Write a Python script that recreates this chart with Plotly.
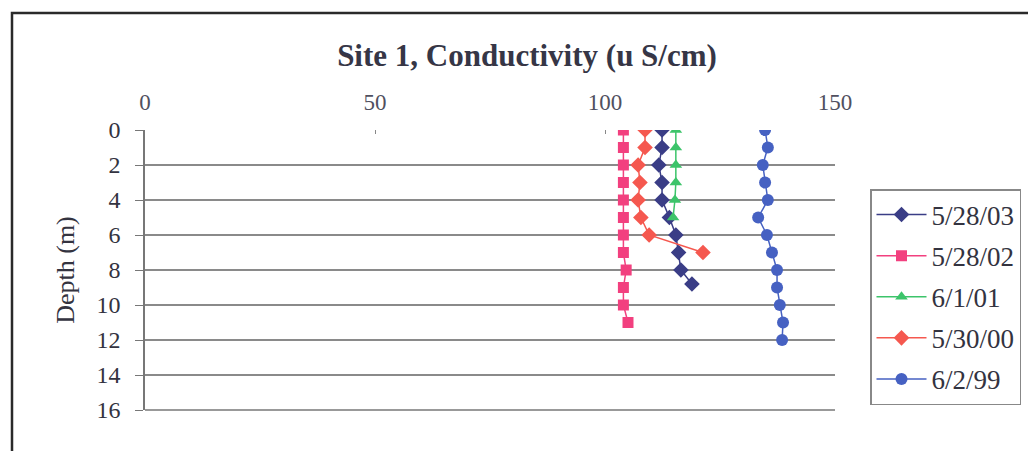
import plotly.graph_objects as go

# ---- data ----
series_names = ["5/28/03", "5/28/02", "6/1/01", "5/30/00", "6/2/99"]

depth_0528_03 = [0, 1, 2, 3, 4, 5, 6, 7, 8, 8.8]
cond_0528_03 = [112.4, 112.4, 111.7, 112.4, 112.4, 114.0, 115.4, 116.0, 116.5, 118.9]

depth_0528_02 = [0, 1, 2, 3, 4, 5, 6, 7, 8, 9, 10, 11]
cond_0528_02 = [104, 104, 104, 104, 104, 104, 104, 104, 104.6, 104, 104, 105]

depth_0601_01 = [0, 1, 2, 3, 4, 5]
cond_0601_01 = [115.4, 115.4, 115.4, 115.4, 115.2, 114.8]

depth_0530_00 = [0, 1, 2, 3, 4, 5, 6, 7]
cond_0530_00 = [108.7, 108.7, 107.2, 107.6, 107.2, 107.8, 109.6, 121.3]

depth_0602_99 = [0, 1, 2, 3, 4, 5, 6, 7, 8, 9, 10, 11, 12]
cond_0602_99 = [134.8, 135.4, 134.3, 134.8, 135.4, 133.3, 135.2, 136.3, 137.4, 137.4, 138.0, 138.7, 138.5]

x_ticks = [0, 50, 100, 150]
y_ticks = [0, 2, 4, 6, 8, 10, 12, 14, 16]

SERIF = "Liberation Serif, Times New Roman, serif"

styles = [
    (cond_0528_03, depth_0528_03, "#3a3d86", "diamond", 12),
    (cond_0528_02, depth_0528_02, "#f2407f", "square", 11),
    (cond_0601_01, depth_0601_01, "#3cc46a", "triangle-up", 11),
    (cond_0530_00, depth_0530_00, "#f5584f", "diamond", 12),
    (cond_0602_99, depth_0602_99, "#4661c2", "circle", 12),
]

fig = go.Figure()
for name, (xs, ys, col, sym, sz) in zip(series_names, styles):
    fig.add_trace(go.Scatter(
        x=xs, y=ys, name=name, mode="lines+markers",
        line=dict(color=col, width=1.5),
        marker=dict(color=col, symbol=sym, size=sz),
        legendgroup=name,
    ))

# page body has an 8px margin; the figure is sized/shifted to compensate
W, H = 1028, 443
fig.update_layout(
    width=W, height=H,
    margin=dict(l=137, r=201, t=122, b=41),
    paper_bgcolor="white", plot_bgcolor="white",
    title=dict(text="<b>Site 1, Conductivity (u S/cm)</b>", x=519 / W, xanchor="center",
               y=1 - 47 / H, yanchor="middle",
               font=dict(family=SERIF, size=31, color="#363646")),
    font=dict(family=SERIF, size=18, color="#333340"),
    xaxis=dict(range=[0, 150], side="top", tickvals=x_ticks, showgrid=False,
               zeroline=False, showline=False, ticks="inside", ticklen=4,
               tickcolor="#888", tickfont=dict(size=23, color="#505060"), ticklabelstandoff=14),
    yaxis=dict(range=[16, 0], tickvals=y_ticks, showgrid=True, gridcolor="#8a8a8a",
               gridwidth=1.5, zeroline=False, showline=True, linecolor="#777", linewidth=1.5,
               ticks="outside", ticklen=8, tickcolor="#777", ticklabelstandoff=10,
               tickfont=dict(size=24, color="#333340"),
               title=dict(text="Depth (m)", font=dict(size=26, color="#333340"), standoff=14)),
    legend=dict(x=(870 - 145) / 690, y=(410 - 189) / 280, xanchor="left", yanchor="top",
                bordercolor="#888", borderwidth=1.5, bgcolor="white",
                font=dict(family=SERIF, size=27, color="#333340"),
                traceorder="grouped", tracegroupgap=3,
                itemwidth=50),
    showlegend=True,
)

# bottom plot border line
fig.add_shape(type="line", xref="paper", yref="paper", x0=0, x1=1, y0=0, y1=0,
              line=dict(color="#777", width=1.5))
# outer frame of the chart
fig.add_shape(type="rect", xref="paper", yref="paper",
              x0=(12 - 145) / 690, x1=(1050 - 145) / 690,
              y0=(410 - 470) / 280, y1=(410 - 13) / 280,
              line=dict(color="#2a2a2a", width=2.5), layer="below")

fig.write_html("out.html")
